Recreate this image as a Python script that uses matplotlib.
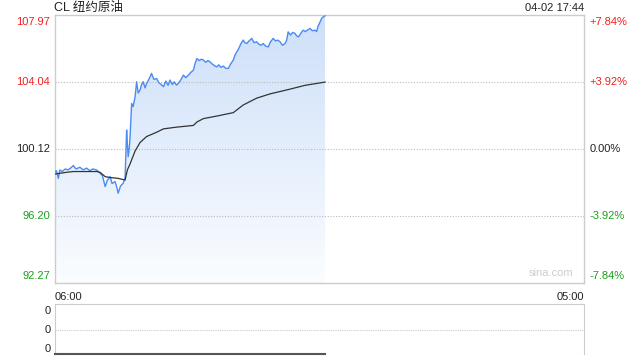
import matplotlib
matplotlib.use("Agg")
import matplotlib.pyplot as plt
import numpy as np
from matplotlib.patches import Polygon

plt.rcParams["font.family"] = ["Liberation Sans", "Noto Sans CJK SC", "DejaVu Sans"]

# minutes since 06:00, prices
minutes = [0, 5, 10, 14, 20, 28, 35, 42, 49, 56, 66, 75, 84, 92, 100, 110, 119, 125,
           132, 138, 145, 150, 158, 162, 166, 172, 179, 184, 188, 190, 192, 195, 197,
           201, 205, 210, 214, 218, 223, 227, 231, 236, 240, 246, 253, 259, 266, 272,
           278, 284, 290, 296, 301, 307, 312, 318, 324, 330, 336, 342, 349, 355, 362,
           366, 371, 377, 383, 388, 394, 400, 405, 411, 417, 423, 428, 434, 440, 446,
           453, 459, 466, 470, 475, 480, 486, 492, 496, 501, 507, 514, 520, 527, 533,
           539, 544, 550, 557, 563, 570, 576, 582, 588, 594, 601, 605, 609, 615, 621,
           627, 631, 636, 642, 648, 654, 660, 666, 672, 679, 683, 687, 691, 696, 700, 705]
price = [98.75, 98.85, 98.40, 98.89, 98.80, 98.95, 98.90, 99.00, 99.15, 98.95, 99.05,
         98.90, 99.00, 98.85, 98.95, 98.89, 98.70, 98.55, 97.92, 98.30, 98.50, 98.10,
         98.21, 97.90, 97.53, 97.95, 98.11, 98.45, 101.23, 100.40, 99.67, 100.20, 100.84,
         102.79, 102.60, 103.18, 104.06, 103.40, 103.57, 103.90, 104.06, 103.70, 103.96,
         104.20, 104.55, 104.20, 104.25, 104.00, 103.90, 103.77, 104.10, 103.85, 104.16,
         103.90, 104.05, 103.86, 104.00, 104.20, 104.45, 104.30, 104.45, 104.60, 104.74,
         105.10, 105.42, 105.30, 105.38, 105.33, 105.20, 105.30, 105.23, 105.10, 105.00,
         104.93, 105.05, 104.90, 104.98, 104.85, 104.84, 105.10, 105.33, 105.60, 105.81,
         106.00, 106.30, 106.50, 106.35, 106.30, 106.45, 106.60, 106.35, 106.40, 106.25,
         106.20, 106.30, 106.15, 106.10, 106.40, 106.60, 106.45, 106.50, 106.40, 106.20,
         106.30, 106.50, 106.98, 106.80, 106.95, 106.89, 106.75, 106.69, 106.90, 107.08,
         107.00, 107.10, 107.18, 107.05, 107.08, 107.00, 107.32, 107.50, 107.77, 107.85, 107.92]
avg_minutes = [0, 30, 49, 80, 110, 119, 132, 145, 166, 184, 190, 197, 210, 223, 240,
               266, 284, 318, 362, 371, 388, 423, 466, 492, 527, 562, 609, 653, 705]
avg_price = [98.65, 98.75, 98.80, 98.80, 98.80, 98.75, 98.50, 98.45, 98.40, 98.30, 98.90,
             99.25, 100.00, 100.50, 100.85, 101.10, 101.30, 101.40, 101.50, 101.70, 101.90,
             102.05, 102.25, 102.70, 103.10, 103.35, 103.60, 103.85, 104.04]
vol_minutes = [0, 705]
volume = [0, 0]

left_ticks = [107.97, 104.04, 100.12, 96.20, 92.27]
right_labels = ["+7.84%", "+3.92%", "0.00%", "-3.92%", "-7.84%"]
tick_colors = ["#f02020", "#f02020", "#222222", "#1aa01a", "#1aa01a"]
x_ticks = [0, 1380]
x_labels = ["06:00", "05:00"]

fig = plt.figure(figsize=(6.4, 3.6), dpi=100)
ax = fig.add_axes([54.5 / 640, 1 - 283 / 360, 529.5 / 640, 268 / 360])
axv = fig.add_axes([54.5 / 640, 1 - 354 / 360, 529.5 / 640, 50 / 360])

ax.set_xlim(0, 1380)
ax.set_ylim(92.27, 107.97)

# gradient fill under the price line (darker at the top)
grad = np.linspace(1, 0, 256).reshape(-1, 1)
cmap = matplotlib.colors.LinearSegmentedColormap.from_list("g", ["#fbfdff", "#cddff9"])
img = ax.imshow(grad, extent=[0, 1380, 92.27, 107.97], aspect="auto", cmap=cmap,
                origin="upper", zorder=1)
poly = Polygon(list(zip(minutes, price)) + [(minutes[-1], 92.27), (minutes[0], 92.27)],
               closed=True, transform=ax.transData, facecolor="none", edgecolor="none")
ax.add_patch(poly)
img.set_clip_path(poly)

ax.plot(minutes, price, color="#4b8bf5", lw=1.0, zorder=3)
ax.plot(avg_minutes, avg_price, color="#333333", lw=0.9, zorder=4)

for y in left_ticks[1:4]:
    ax.axhline(y, color="#bbbbbb", lw=0.8, ls=(0, (1, 1.5)), zorder=2)

ax.set_xticks([])
ax.set_yticks([])
for s in ax.spines.values():
    s.set_color("#cccccc")
    s.set_linewidth(1)

# price labels left, pct labels right
offsets = [-5, 0, 0, 0, 5]
for v, pct, c, off in zip(left_ticks, right_labels, tick_colors, offsets):
    ax.annotate(f"{v:.2f}", xy=(0, v), xycoords=("axes fraction", "data"),
                xytext=(-3, off), textcoords="offset points", ha="right", va="center",
                fontsize=8, color=c)
    ax.annotate(pct, xy=(1, v), xycoords=("axes fraction", "data"),
                xytext=(4, off), textcoords="offset points", ha="left", va="center",
                fontsize=8, color=c)

for t, lab in zip(x_ticks, x_labels):
    ax.annotate(lab, xy=(t, 0), xycoords=("data", "axes fraction"),
                xytext=(0, -10), textcoords="offset points",
                ha="left" if t == 0 else "right", va="center", fontsize=8, color="#222222")

ax.annotate("CL 纽约原油", xy=(0, 1), xycoords="axes fraction", xytext=(0, 1),
            textcoords="offset points", ha="left", va="bottom", fontsize=9, color="#222222")
ax.annotate("04-02 17:44", xy=(1, 1), xycoords="axes fraction", xytext=(0, 1.5),
            textcoords="offset points", ha="right", va="bottom", fontsize=8, color="#222222")
ax.text(0.98, 0.02, "sina.com", transform=ax.transAxes, ha="right", va="bottom",
        fontsize=8, color="#cccccc")

# volume panel
axv.set_xlim(0, 1380)
axv.set_ylim(0, 1)
axv.plot(vol_minutes, volume, color="#555555", lw=1.5, zorder=3, clip_on=False)
axv.axhline(0.48, color="#cccccc", lw=0.8, ls=(0, (1, 1)))
axv.axhline(0.0, color="#cccccc", lw=0.8, ls=(0, (1, 1)))
axv.set_xticks([])
axv.set_yticks([0.12, 0.5, 0.88])
axv.set_yticklabels(["0", "0", "0"], fontsize=8, color="#222222")
axv.tick_params(axis="y", length=0, pad=3)
axv.spines["top"].set_linestyle((0, (1, 1)))
axv.spines["bottom"].set_visible(False)
for s in axv.spines.values():
    s.set_color("#cccccc")

fig.savefig("out.png", dpi=100)
